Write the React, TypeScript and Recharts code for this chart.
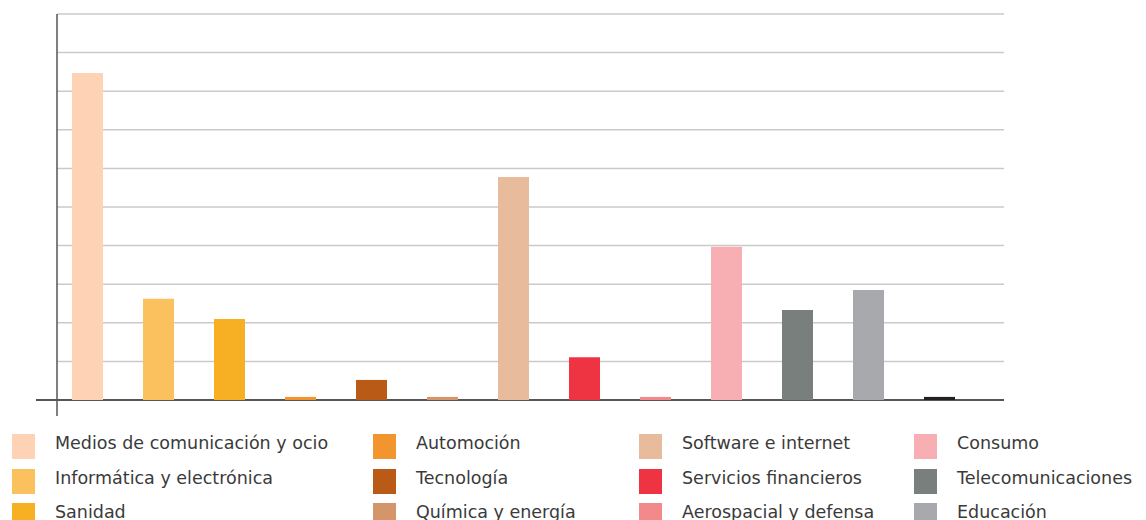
import React from "react";
import { BarChart, Bar, Cell, XAxis, YAxis, CartesianGrid, usePlotArea } from "recharts";

const categories = [
  "Medios de comunicación y ocio",
  "Informática y electrónica",
  "Sanidad",
  "Automoción",
  "Tecnología",
  "Química y energía",
  "Software e internet",
  "Servicios financieros",
  "Aerospacial y defensa",
  "Consumo",
  "Telecomunicaciones",
  "Educación",
  "Otros",
];
const values = [8.47, 2.62, 2.1, 0.08, 0.52, 0.08, 5.78, 1.11, 0.08, 3.97, 2.33, 2.85, 0.08];
const colors = [
  "#FDD2B5",
  "#FAC15E",
  "#F7B024",
  "#F3952F",
  "#BA5A17",
  "#D4956A",
  "#E8BB9C",
  "#EE3442",
  "#F28A8C",
  "#F8AFB3",
  "#787F7C",
  "#A8A9AC",
  "#231F20",
];
const yTicks = [0, 1, 2, 3, 4, 5, 6, 7, 8, 9, 10];
const legendCount = 12;

const data = categories.map((name, i) => ({ name, value: values[i] }));

const legendColX = [12, 373, 639, 914];
const legendRowY = [434, 468.5, 503];

function AxisLines() {
  const pa = usePlotArea();
  if (!pa) return null;
  const bottom = pa.y + pa.height;
  return (
    <g>
      <line x1={pa.x} y1={pa.y} x2={pa.x} y2={bottom + 16} stroke="#555" strokeWidth={1.5} />
      <line x1={pa.x - 21} y1={bottom} x2={pa.x + pa.width} y2={bottom} stroke="#555" strokeWidth={2} />
    </g>
  );
}

export default function App() {
  return (
    <div
      style={{
        position: "absolute",
        left: 0,
        top: 0,
        width: 1146,
        height: 520,
        overflow: "hidden",
        background: "#fff",
        fontFamily: "'DejaVu Sans', sans-serif",
      }}
    >
      <BarChart
        width={1146}
        height={520}
        data={data}
        margin={{ top: 14, right: 142, bottom: 120, left: 57 }}
        barCategoryGap="56%"
      >
        <CartesianGrid horizontal vertical={false} stroke="#cacaca" strokeWidth={1.5} />
        <XAxis dataKey="name" hide padding={{ left: -5, right: 29 }} />
        <YAxis hide domain={[0, 10]} ticks={yTicks} />
        <Bar dataKey="value" barSize={31} isAnimationActive={false}>
          {data.map((d, i) => (
            <Cell key={d.name} fill={colors[i]} />
          ))}
        </Bar>
        <AxisLines />
      </BarChart>
      {categories.slice(0, legendCount).map((name, i) => {
        const col = Math.floor(i / 3);
        const row = i % 3;
        const x = legendColX[col];
        const y = legendRowY[row];
        return (
          <div key={name}>
            <div
              style={{
                position: "absolute",
                left: x,
                top: y,
                width: 23,
                height: 25,
                background: colors[i],
              }}
            />
            <div
              style={{
                position: "absolute",
                left: x + 43,
                top: y - 2,
                fontSize: 17.5,
                lineHeight: "22px",
                color: "#3a3a3a",
                whiteSpace: "nowrap",
              }}
            >
              {name}
            </div>
          </div>
        );
      })}
    </div>
  );
}
